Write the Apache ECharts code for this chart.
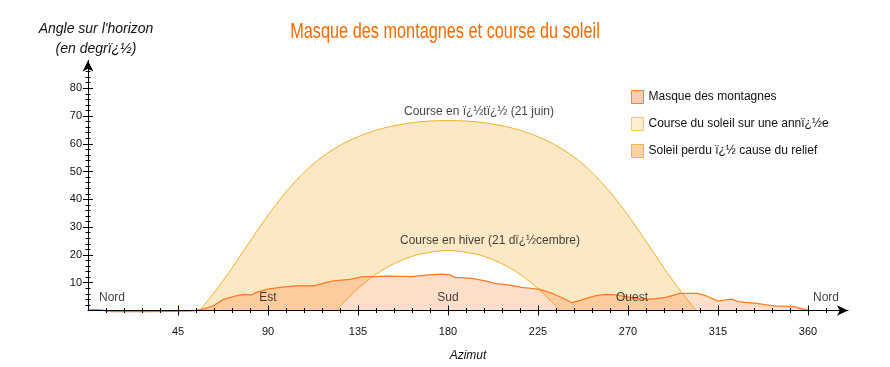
<!DOCTYPE html>
<html><head><meta charset="utf-8">
<script src="https://cdn.jsdelivr.net/npm/echarts@6/dist/echarts.min.js"></script>
<style>html,body{margin:0;padding:0;background:#fff}#c{width:890px;height:367px}</style>
</head><body><div id="c"></div>
<script>
// Mountain mask profile (azimuth in degrees, angle above horizon in degrees)
const maskAz  = [0, 5, 8, 12, 20, 30, 40, 50, 54, 58, 62.7, 67.7, 74, 77.7, 81.8, 84.3, 89.3, 96, 104, 112.7, 117.7, 122.7, 131, 137.7, 144, 150, 156, 162, 170, 177, 181, 183.5, 192, 198.5, 203.5, 210, 217, 226, 232, 237, 242, 247, 253.5, 258.5, 264, 271, 276, 282, 289, 296, 305, 309, 315, 319, 322, 325, 329, 334, 343, 353, 360];
const maskAlt = [0.3, 0.3, 0, -0.4, -0.4, -0.4, -0.3, -0.2, 0, 0.6, 1.7, 4.0, 5.3, 5.8, 5.6, 6.5, 7.6, 8.3, 8.9, 8.9, 9.8, 10.7, 11.2, 12.2, 12.2, 12.4, 12.3, 12.2, 12.8, 13.1, 12.8, 11.9, 11.6, 10.7, 9.8, 9.2, 8.3, 7.6, 6.2, 4.6, 2.8, 3.8, 5.3, 5.8, 5.6, 4.7, 4.3, 4.1, 4.7, 6.2, 6.2, 5.3, 3.4, 3.8, 4.1, 3.2, 2.9, 2.6, 1.7, 1.4, 0];

// Sun path on 21 June
const summerAz  = [55.8, 58.4, 63.1, 68.1, 73.0, 77.8, 82.7, 87.8, 93.1, 98.9, 105.3, 112.7, 121.5, 132.2, 145.4, 161.7, 180, 198.3, 214.6, 227.8, 238.5, 247.3, 254.7, 261.1, 266.9, 272.2, 277.3, 282.2, 287.0, 291.9, 296.9, 301.6, 304.2];
const summerAlt = [0, 2.2, 6.5, 11.3, 16.3, 21.5, 26.7, 32.0, 37.3, 42.6, 47.7, 52.8, 57.5, 61.7, 65.2, 67.6, 68.4, 67.6, 65.2, 61.7, 57.5, 52.8, 47.7, 42.6, 37.3, 32.0, 26.7, 21.5, 16.3, 11.3, 6.5, 2.2, 0];

// Sun path on 21 December
const winterAz  = [124.2, 127.3, 132.9, 138.8, 144.9, 151.5, 158.3, 165.4, 180, 194.6, 201.7, 208.5, 215.1, 221.2, 227.1, 232.7, 235.8];
const winterAlt = [0, 2.5, 6.5, 10.2, 13.5, 16.3, 18.5, 20.2, 21.6, 20.2, 18.5, 16.3, 13.5, 10.2, 6.5, 2.5, 0];

// Axis ticks
const xMajorTicks = [45, 90, 135, 180, 225, 270, 315, 360];
const xMinorTicks = [9, 18, 27, 36, 54, 63, 72, 81, 99, 108, 117, 126, 144, 153, 162, 171, 189, 198, 207, 216, 234, 243, 252, 261, 279, 288, 297, 306, 324, 333, 342, 351, 369];
const yMajorTicks = [10, 20, 30, 40, 50, 60, 70, 80];
const yMinorTicks = [2, 4, 6, 8, 12, 14, 16, 18, 22, 24, 26, 28, 32, 34, 36, 38, 42, 44, 46, 48, 52, 54, 56, 58, 62, 64, 66, 68, 72, 74, 76, 78, 82, 84, 86, 88];

// Text annotations
const regionNames = ['Nord', 'Est', 'Sud', 'Ouest', 'Nord'];
const regionAz    = [12, 90, 180, 272, 369];
const regionAlt   = [4.6, 4.6, 4.6, 4.6, 4.6];
const pathNames   = ['Course en ï¿½tï¿½ (21 juin)', 'Course en hiver (21 dï¿½cembre)'];
const pathAz      = [195.5, 201];
const pathAlt     = [71.6, 25];

const titleText   = 'Masque des montagnes et course du soleil';
const yAxisName   = "Angle sur l'horizon\n(en degrï¿½)";
const legendNames = ['Masque des montagnes', 'Course du soleil sur une annï¿½e', 'Soleil perdu ï¿½ cause du relief'];

const FONT = "'Liberation Sans', Arial, sans-serif";
const zip = (a, b) => a.map((v, i) => [v, b[i]]);

function xAx(extra) {
  return Object.assign({
    type: 'value', min: 0, max: 380, position: 'bottom', z: 10,
    axisLine: { show: false }, axisLabel: { show: false },
    axisTick: { show: false }, splitLine: { show: false }
  }, extra);
}
function yAx(extra) {
  return Object.assign({
    type: 'value', min: 0, max: 90, position: 'left', z: 10,
    axisLine: { show: false }, axisLabel: { show: false },
    axisTick: { show: false }, splitLine: { show: false }
  }, extra);
}
const tickLine = { color: '#000', width: 1 };

const chart = echarts.init(document.getElementById('c'), null, { renderer: 'canvas' });
chart.setOption({
  animation: false,
  backgroundColor: '#fff',
  grid: { left: 88, right: 42, top: 60.5, bottom: 56.5 },
  legend: {
    orient: 'vertical', left: 626, top: 85, itemWidth: 12, itemHeight: 13, itemGap: 13, icon: 'rect',
    textStyle: { fontSize: 12, color: '#111', fontFamily: FONT },
    data: [
      { name: legendNames[0], itemStyle: { color: '#fccbb0', borderColor: '#ff7f3a', borderWidth: 1 } },
      { name: legendNames[1], itemStyle: { color: '#fdefcd', borderColor: '#f9c860', borderWidth: 1 } },
      { name: legendNames[2], itemStyle: { color: '#fcd3a2', borderColor: '#f5b43a', borderWidth: 1 } }
    ]
  },
  graphic: [
    {
      type: 'text', x: 445, y: 32, scaleX: 0.74, originX: 0, z: 20,
      style: { text: titleText, font: '22px ' + FONT, fill: '#ff6a00', align: 'center', verticalAlign: 'middle' }
    },
    {
      type: 'text', x: 96, y: 19, z: 20,
      style: { text: yAxisName, font: 'italic 14px ' + FONT, fill: '#111', align: 'center', lineHeight: 20 }
    }
  ],
  xAxis: [
    xAx({
      axisLine: { show: true, lineStyle: { color: '#000', width: 1 }, symbol: ['none', 'arrow'], symbolSize: [8, 11] },
      axisTick: { show: true, inside: false, length: 5, customValues: xMajorTicks, lineStyle: tickLine },
      axisLabel: { show: true, customValues: xMajorTicks, margin: 16, fontSize: 11, color: '#111', fontFamily: FONT },
      name: 'Azimut', nameLocation: 'middle', nameGap: 39,
      nameTextStyle: { fontStyle: 'italic', fontSize: 12, color: '#111', fontFamily: FONT }
    }),
    xAx({ axisTick: { show: true, inside: true, length: 5, customValues: xMajorTicks, lineStyle: tickLine } }),
    xAx({ axisTick: { show: true, inside: false, length: 2.5, customValues: xMinorTicks, lineStyle: tickLine } }),
    xAx({ axisTick: { show: true, inside: true, length: 2.5, customValues: xMinorTicks, lineStyle: tickLine } })
  ],
  yAxis: [
    yAx({
      axisLine: { show: true, lineStyle: { color: '#000', width: 1 }, symbol: ['none', 'arrow'], symbolSize: [8, 11] },
      axisTick: { show: true, inside: false, length: 5, customValues: yMajorTicks, lineStyle: tickLine },
      axisLabel: { show: true, customValues: yMajorTicks, margin: 6, fontSize: 11, color: '#111', fontFamily: FONT }
    }),
    yAx({ axisTick: { show: true, inside: true, length: 5, customValues: yMajorTicks, lineStyle: tickLine } }),
    yAx({ axisTick: { show: true, inside: false, length: 2.5, customValues: yMinorTicks, lineStyle: tickLine } }),
    yAx({ axisTick: { show: true, inside: true, length: 2.5, customValues: yMinorTicks, lineStyle: tickLine } })
  ],
  series: [
    {
      name: legendNames[1], type: 'line', smooth: 0.3, showSymbol: false, z: 2,
      data: zip(summerAz, summerAlt),
      lineStyle: { color: '#f3b22a', width: 1 },
      itemStyle: { color: '#fdefcd' },
      areaStyle: { color: '#fbe8c5', opacity: 1 }
    },
    {
      name: 'hiver', type: 'line', smooth: 0.3, showSymbol: false, z: 3,
      data: zip(winterAz, winterAlt),
      lineStyle: { color: '#f3b22a', width: 1 },
      areaStyle: { color: '#ffffff', opacity: 1 }
    },
    {
      name: legendNames[0], type: 'line', showSymbol: false, z: 4, clip: false,
      data: zip(maskAz, maskAlt),
      lineStyle: { color: '#ff7a22', width: 1.3 },
      itemStyle: { color: '#fccbb0' },
      areaStyle: { color: 'rgba(255,115,35,0.24)', opacity: 1 }
    },
    { name: legendNames[2], type: 'line', data: [], itemStyle: { color: '#fcd3a2' } },
    {
      name: 'labels', type: 'scatter', symbolSize: 0, z: 6, silent: true,
      data: regionNames.map((n, i) => ({ name: n, value: [regionAz[i], regionAlt[i]] }))
        .concat(pathNames.map((n, i) => ({ name: n, value: [pathAz[i], pathAlt[i]] }))),
      label: { show: true, position: 'inside', formatter: p => p.name, fontSize: 12, color: '#111', fontFamily: FONT }
    }
  ]
});
</script>
</body></html>
